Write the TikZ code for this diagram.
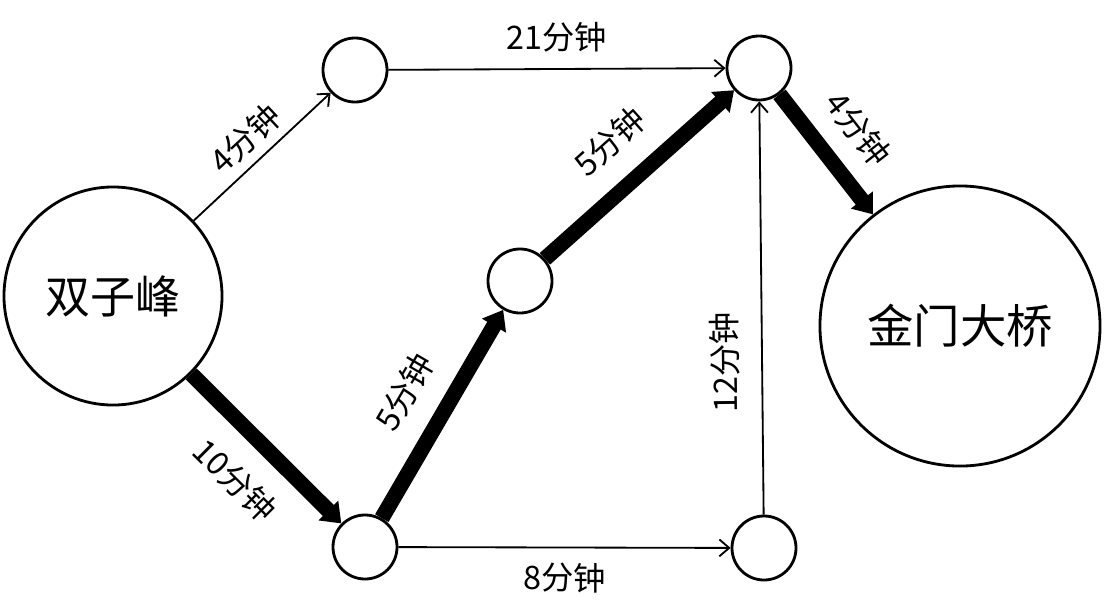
\documentclass[tikz,border=0pt]{standalone}
\usepackage{fontspec}
\newfontfamily\cjk{Noto Sans CJK SC}
\usetikzlibrary{arrows.meta}

\begin{document}
\begin{tikzpicture}[x=0.025cm, y=-0.025cm,
    place/.style={circle, draw, line width=2pt, inner sep=0pt},
    spot/.style={place, minimum size=1.6cm},
    lbl/.style={font=\cjk\fontsize{23}{27}\selectfont, sloped},
    slow/.style={-{Straight Barb[length=7pt,width=12pt]}, line width=1.3pt},
    fast/.style={-{Triangle[length=13pt,width=19pt]}, line width=11pt}]
    \useasboundingbox (0,0) rectangle (1105,613);
    % places
    \node[place, minimum size=5.45cm, font=\cjk\fontsize{32}{36}\selectfont] (twin) at (113,296) {双子峰};
    \node[place, minimum size=7cm, font=\cjk\fontsize{33}{37}\selectfont] (gate) at (960,326) {金门大桥};
    \node[spot] (a) at (355,70) {};
    \node[spot] (b) at (520,281) {};
    \node[spot] (c) at (365,547) {};
    \node[spot] (d) at (759,68) {};
    \node[spot] (e) at (764,548) {};
    % thin routes
    \draw[slow] (twin) -- node[lbl, midway, above=3pt] {4分钟} (a);
    \draw[slow] (a) -- node[lbl, midway, above=8pt] {21分钟} (d);
    \draw[slow] (c) -- node[lbl, midway, below=7pt] {8分钟} (e);
    \draw[slow] (e) -- node[lbl, allow upside down, pos=0.37, above=12pt] {12分钟} (d);
    % fast routes
    \draw[fast] (twin) -- node[lbl, midway, below=12pt] {10分钟} (c);
    \draw[fast] (c) -- node[lbl, midway, above=12pt] {5分钟} (b);
    \draw[fast] (b) -- node[lbl, midway, above=12pt] {5分钟} (d);
    \draw[fast] (d) -- node[lbl, midway, above=10pt] {4分钟} (gate);
\end{tikzpicture}
\end{document}
